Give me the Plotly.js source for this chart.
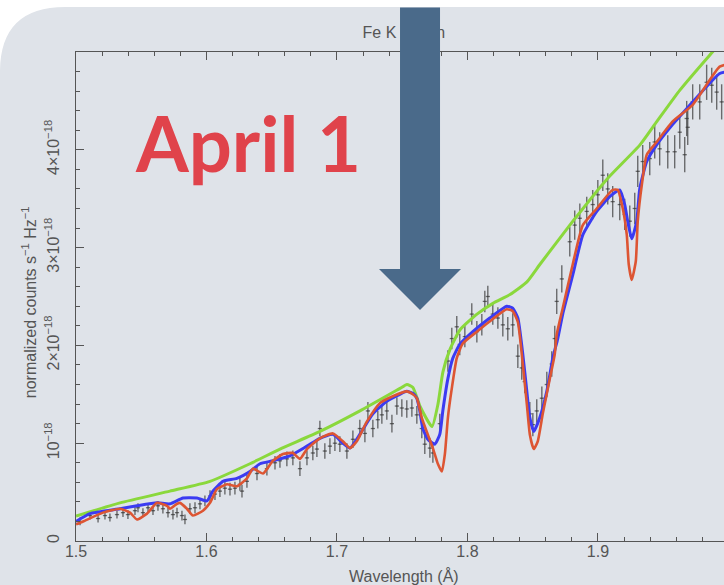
<!DOCTYPE html>
<html>
<head>
<meta charset="utf-8">
<script src="https://cdn.plot.ly/plotly-3.0.1.min.js"></script>
<style>html,body{margin:0;padding:0;background:#fff;}#chart{width:724px;height:585px;}</style>
</head>
<body>
<div id="chart"></div>
<script>
// ---- data (y in units of 1e-18 normalized counts s^-1 Hz^-1) ----
const obsX = [1.5031,1.5107,1.5169,1.5222,1.5260,1.5314,1.5360,1.5398,1.5452,1.5475,1.5513,1.5552,1.5590,1.5628,1.5666,1.5705,1.5743,1.5774,1.5812,1.5835,1.5873,1.5912,1.5950,1.5988,1.6027,1.6065,1.6103,1.6141,1.6180,1.6218,1.6256,1.6272,1.6310,
  1.6387,1.6463,1.6525,1.6563,1.6616,1.6662,1.6716,1.6770,1.6815,1.6846,1.6869,1.6907,1.6946,1.6984,1.7022,1.7076,1.7122,1.7175,1.7214,1.7237,1.7275,1.7313,1.7344,1.7382,1.7421,1.7459,1.7497,1.7535,1.7574,1.7612,
  1.7650,1.7673,1.7712,1.7735,1.7788,1.7850,1.7880,1.7918,1.7941,1.7980,1.8033,1.8072,1.8110,1.8133,1.8156,1.8194,1.8233,1.8271,1.8309,1.8347,1.8386,1.8416,1.8439,1.8478,1.8501,1.8531,1.8570,1.8608,1.8646,1.8669,1.8684,
  1.8723,1.8784,1.8822,1.8861,1.8914,1.8960,1.8999,1.9037,1.9075,1.9113,1.9167,1.9205,1.9244,1.9282,1.9305,1.9343,1.9397,1.9435,1.9473,1.9535,1.9588,1.9627,1.9665,1.9680,1.9688,1.9726,1.9780,1.9833,1.9872,1.9910,1.9948];
const obsY = [0.20,0.26,0.23,0.26,0.24,0.27,0.29,0.27,0.31,0.34,0.29,0.34,0.31,0.36,0.33,0.29,0.27,0.29,0.26,0.22,0.33,0.34,0.38,0.41,0.46,0.48,0.51,0.54,0.53,0.54,0.58,0.51,0.61,
  0.69,0.74,0.80,0.82,0.84,0.85,0.74,0.85,0.90,0.94,1.15,0.92,0.97,1.00,0.99,0.92,1.04,1.15,1.10,1.33,1.15,1.24,1.29,1.33,1.20,1.38,1.36,1.35,1.36,1.29,
  1.15,0.99,0.95,0.90,1.20,1.84,2.07,2.19,2.01,2.09,2.32,2.14,2.21,2.45,2.50,2.32,2.28,2.21,2.17,2.21,1.89,1.77,1.63,1.30,1.19,1.33,1.46,1.60,1.81,2.07,2.45,
  2.68,3.06,3.23,3.30,3.37,3.44,3.54,3.74,3.60,3.47,3.44,3.34,3.27,3.40,3.78,3.88,3.91,4.08,4.01,3.98,3.98,4.18,3.95,4.32,4.23,4.49,4.49,4.69,4.66,4.59,4.49];
const obsErr = [0.04,0.04,0.04,0.04,0.04,0.04,0.045,0.045,0.045,0.045,0.045,0.045,0.045,0.05,0.05,0.05,0.05,0.05,0.05,0.05,0.055,0.055,0.055,0.055,0.06,0.06,0.06,0.065,0.065,0.065,0.065,0.065,0.065,
  0.07,0.07,0.07,0.07,0.075,0.075,0.075,0.075,0.075,0.08,0.08,0.08,0.08,0.08,0.08,0.08,0.09,0.09,0.09,0.09,0.09,0.09,0.09,0.09,0.09,0.09,0.09,0.09,0.09,0.09,
  0.1,0.1,0.1,0.1,0.1,0.11,0.11,0.11,0.11,0.11,0.11,0.11,0.11,0.11,0.11,0.11,0.11,0.12,0.12,0.12,0.12,0.12,0.12,0.12,0.12,0.12,0.12,0.13,0.13,0.13,0.13,
  0.14,0.15,0.15,0.15,0.15,0.15,0.15,0.16,0.16,0.16,0.16,0.16,0.16,0.16,0.16,0.17,0.17,0.17,0.17,0.17,0.17,0.17,0.18,0.18,0.18,0.18,0.18,0.18,0.18,0.18,0.18];

const contX = [1.5000,1.5337,1.5720,1.6027,1.6333,1.6563,1.6870,1.7176,1.7483,1.7536,1.7582,1.7636,1.7728,1.7774,1.7812,1.7866,1.7943,1.8073,1.8195,1.8326,1.8456,1.8556,1.8808,1.9069,1.9322,1.9452,1.9628,1.9858,2.0011];
const contY = [0.255,0.39,0.51,0.61,0.79,0.94,1.12,1.33,1.56,1.60,1.57,1.38,1.17,1.40,1.73,1.96,2.16,2.32,2.43,2.52,2.65,2.83,3.27,3.70,4.05,4.29,4.61,4.97,5.20];

const blueX = [1.5000,1.5107,1.5337,1.5467,1.5621,1.5720,1.5820,1.5927,1.6003,1.6049,1.6126,1.6233,1.6333,1.6410,1.6509,1.6639,1.6770,1.6869,1.6969,1.7045,1.7099,1.7175,1.7275,1.7382,1.7482,1.7535,1.7581,1.7612,1.7635,1.7658,1.7696,1.7750,1.7788,1.7811,1.7850,1.7888,1.7941,1.8041,1.8171,1.8301,1.8347,1.8386,1.8424,1.8455,1.8478,1.8508,1.8554,1.8608,1.8654,1.8692,1.8730,1.8807,1.8884,1.8991,1.9090,1.9167,1.9205,1.9228,1.9259,1.9297,1.9320,1.9374,1.9450,1.9573,1.9680,1.9933,2.0010];
const blueY = [0.20,0.28,0.33,0.36,0.39,0.38,0.44,0.44,0.41,0.51,0.61,0.64,0.71,0.79,0.82,0.87,0.97,1.05,1.09,1.00,0.95,1.09,1.30,1.43,1.50,1.53,1.51,1.46,1.33,1.15,1.04,0.99,1.09,1.33,1.66,1.87,2.01,2.14,2.28,2.40,2.38,2.28,1.91,1.53,1.26,1.12,1.26,1.53,1.87,2.07,2.32,2.72,3.13,3.37,3.52,3.59,3.44,3.27,3.09,3.27,3.60,3.88,4.05,4.26,4.42,4.78,4.80];

const redX = [1.5000,1.5054,1.5207,1.5337,1.5414,1.5467,1.5544,1.5621,1.5697,1.5720,1.5774,1.5797,1.5850,1.5896,1.5973,1.6027,1.6080,1.6157,1.6233,1.6310,1.6356,1.6433,1.6509,1.6586,1.6662,1.6716,1.6770,1.6869,1.6969,1.7045,1.7099,1.7152,1.7229,1.7329,1.7428,1.7535,1.7581,1.7612,1.7650,1.7696,1.7735,1.7773,1.7804,1.7827,1.7850,1.7880,1.7918,1.7964,1.8072,1.8194,1.8301,1.8347,1.8386,1.8424,1.8455,1.8478,1.8508,1.8539,1.8577,1.8631,1.8669,1.8684,1.8730,1.8807,1.8884,1.8991,1.9113,1.9152,1.9190,1.9221,1.9236,1.9259,1.9290,1.9305,1.9336,1.9374,1.9450,1.9573,1.9726,1.9933,2.0010];
const redY = [0.17,0.20,0.29,0.33,0.29,0.22,0.28,0.39,0.36,0.33,0.38,0.39,0.33,0.26,0.31,0.39,0.53,0.58,0.56,0.64,0.74,0.69,0.82,0.89,0.90,0.84,0.94,1.05,1.10,1.02,0.95,1.02,1.22,1.41,1.48,1.53,1.50,1.46,1.26,1.09,0.95,0.79,0.71,0.89,1.26,1.56,1.87,2.02,2.14,2.27,2.37,2.35,2.24,1.81,1.40,1.09,0.94,1.02,1.30,1.66,1.91,2.11,2.38,2.83,3.23,3.40,3.59,3.59,3.40,3.13,2.83,2.67,2.86,3.27,3.64,3.95,4.08,4.29,4.46,4.85,4.88];

const yTickVals = [0,1,2,3,4];
const yTickText = ['0','10<sup>−18</sup>','2×10<sup>−18</sup>','3×10<sup>−18</sup>','4×10<sup>−18</sup>'];
const titleText = 'Fe K region';

const FONT = 'Liberation Sans, Arial, Helvetica, sans-serif';
const GRAY = '#555555';
const ERRC = 'rgba(60,60,60,0.72)';
const ARROW = '#4a6a8a';

const traces = [
  {type:'scatter', mode:'markers', x:obsX, y:obsY,
   marker:{size:1, color:ERRC},
   error_y:{type:'data', array:obsErr, visible:true, color:ERRC, thickness:1.4, width:0},
   error_x:{type:'constant', value:0.0016, visible:true, color:ERRC, thickness:1.3, width:0},
   hoverinfo:'skip'},
  {type:'scatter', mode:'lines', x:contX, y:contY, line:{color:'#8ad83c', width:3, shape:'spline', smoothing:0.5}, hoverinfo:'skip'},
  {type:'scatter', mode:'lines', x:blueX, y:blueY, line:{color:'#3b3bf2', width:3, shape:'spline', smoothing:0.5}, hoverinfo:'skip'},
  {type:'scatter', mode:'lines', x:redX, y:redY, line:{color:'#dd5533', width:2.6, shape:'spline', smoothing:0.5}, hoverinfo:'skip'}
];

const layout = {
  width:724, height:585,
  margin:{l:76, r:0, t:52, b:44, pad:0},
  paper_bgcolor:'#dfe3e9', plot_bgcolor:'rgba(0,0,0,0)',
  showlegend:false,
  font:{family:FONT, size:16, color:GRAY},
  title:{text:titleText, font:{family:FONT, size:16, color:GRAY}, xref:'paper', x:0.506, xanchor:'center',
         yref:'container', y:0.945, yanchor:'middle'},
  xaxis:{range:[1.5,1.9966], dtick:0.1, tick0:1.5, tickformat:'.1f', ticks:'inside', ticklen:8, tickwidth:1, tickcolor:GRAY,
         showline:true, linecolor:GRAY, linewidth:1, mirror:'ticks', showgrid:false, zeroline:false,
         ticklabelstandoff:-4,
         tickfont:{family:FONT, size:16, color:GRAY},
         minor:{dtick:0.02, ticks:'inside', ticklen:4, tickcolor:GRAY, showgrid:false}},
  yaxis:{range:[0,5], tickvals:yTickVals, ticktext:yTickText, ticks:'inside', ticklen:8, tickwidth:1, tickcolor:GRAY,
         showline:true, linecolor:GRAY, linewidth:1, showgrid:false, zeroline:false, tickangle:-90,
         ticklabelstandoff:10,
         tickfont:{family:FONT, size:16, color:GRAY},
         minor:{dtick:0.2, ticks:'inside', ticklen:4, tickcolor:GRAY, showgrid:false}},
  annotations:[
    {text:'normalized counts s<sup>−1</sup> Hz<sup>−1</sup>', xref:'paper', yref:'paper', x:-0.072, y:0.489, textangle:-90,
     showarrow:false, xanchor:'center', yanchor:'middle', font:{family:FONT, size:16, color:GRAY}},
    {text:'Wavelength (Å)', xref:'paper', yref:'paper', x:0.506, y:-0.072, showarrow:false, xanchor:'center', yanchor:'middle',
     font:{family:FONT, size:16, color:GRAY}},
    {text:'<b>April 1</b>', xref:'paper', yref:'paper', x:0.088, y:0.814, showarrow:false, xanchor:'left', yanchor:'middle',
     font:{family:'Lato, Open Sans, sans-serif', size:76, color:'#e0434b'}},
    // arrow shaft (line only)
    {text:'', xref:'paper', yref:'paper', x:0.5309, y:0.5501, showarrow:true, arrowhead:0, arrowwidth:40,
     arrowcolor:ARROW, ax:0, ay:-266, standoff:0, startstandoff:0, font:{size:1}},
    // arrow head (thin line, large head)
    {text:'', xref:'paper', yref:'paper', x:0.5309, y:0.4724, showarrow:true, arrowhead:1, arrowsize:13.67, arrowwidth:1,
     arrowcolor:ARROW, ax:0, ay:-40, standoff:0, startstandoff:0, font:{size:1}}
  ],
  shapes:[
    {type:'path', xref:'paper', yref:'paper', layer:'above',
     path:'M -0.13,1.12 L 1.02,1.12 L 1.02,1.092 L -0.017,1.092 Q -0.1173,1.092 -0.1173,0.959 L -0.13,0.959 Z',
     fillcolor:'#ffffff', line:{width:0}}
  ]
};

Plotly.newPlot('chart', traces, layout, {displayModeBar:false, staticPlot:true});
</script>
</body>
</html>
